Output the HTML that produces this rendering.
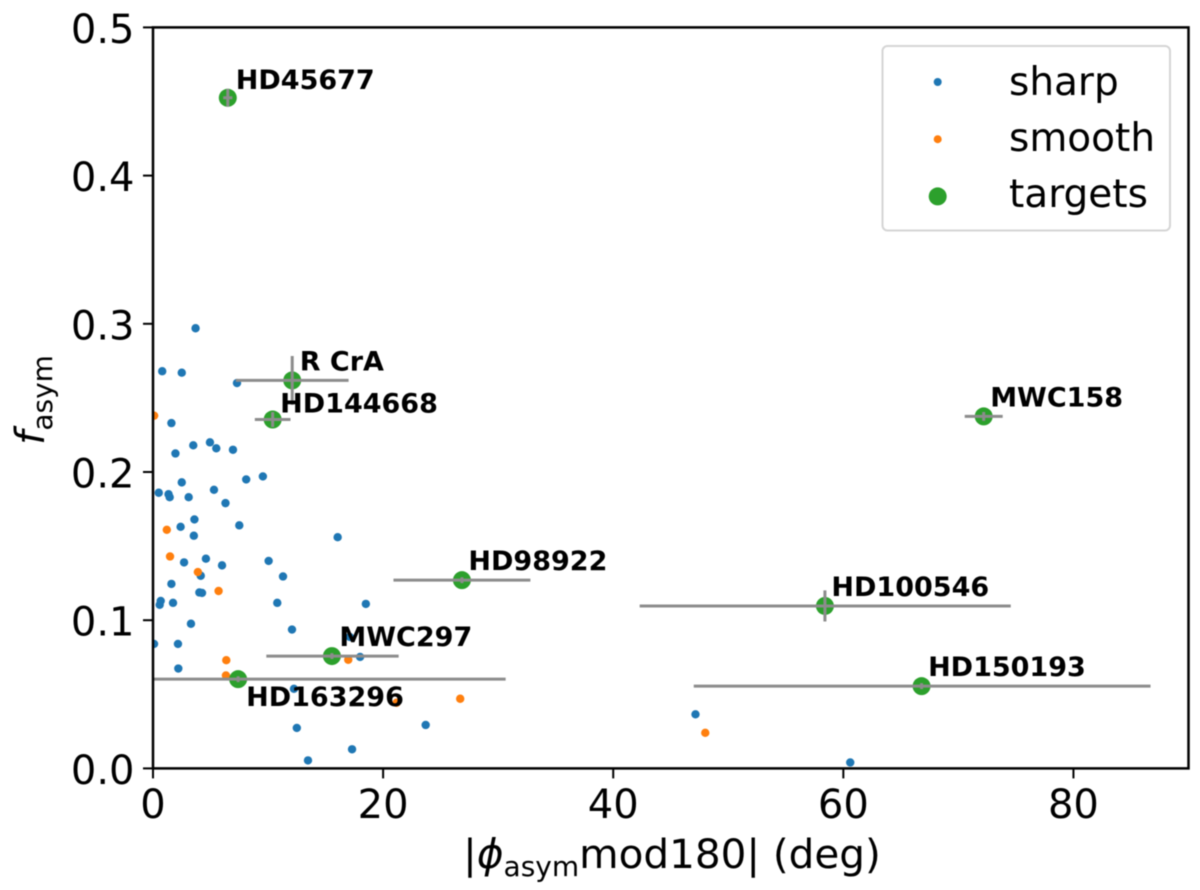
<!DOCTYPE html>
<html>
<head>
<meta charset="utf-8">
<title>Asymmetry fraction vs position angle</title>
<style>
html,body{margin:0;padding:0;background:#fff;width:1200px;height:890px;overflow:hidden}
svg{display:block;filter:blur(0.5px)}
text{font-family:"DejaVu Sans",sans-serif;fill:#000}
</style>
</head>
<body>
<svg id="chart" xmlns="http://www.w3.org/2000/svg" width="1200" height="890" viewBox="0 0 1200 890"></svg>
<script>
const xTicks = [0, 20, 40, 60, 80];
const yTicks = [0.0, 0.1, 0.2, 0.3, 0.4, 0.5];
const yTickLabels = ["0.0", "0.1", "0.2", "0.3", "0.4", "0.5"];
const sharpX = [3.7,0.8,2.5,7.3,1.6,3.5,4.95,5.5,6.95,1.95,8.1,9.55,2.5,5.3,0.5,1.35,1.45,3.1,6.3,3.6,2.4,7.5,3.55,16.05,2.7,4.6,6.0,10.05,11.3,4.15,1.6,4.03,4.26,0.67,0.58,1.74,10.8,18.5,3.3,12.08,0.09,2.17,2.2,17.1,18.0,12.25,23.7,12.5,17.3,13.47,47.15,60.6];
const sharpY = [0.297,0.268,0.267,0.26,0.233,0.218,0.22,0.216,0.215,0.2125,0.195,0.197,0.193,0.188,0.186,0.185,0.183,0.183,0.179,0.168,0.163,0.164,0.157,0.156,0.139,0.1415,0.137,0.14,0.1295,0.13,0.1245,0.1187,0.1184,0.113,0.1104,0.1117,0.1117,0.111,0.0976,0.0937,0.084,0.084,0.0674,0.0887,0.0752,0.0537,0.0293,0.0273,0.0129,0.0054,0.0365,0.004];
const smoothX = [0.1,1.2,1.48,3.9,5.7,6.37,6.34,16.97,21.17,26.7,48.0];
const smoothY = [0.238,0.161,0.143,0.1325,0.1197,0.073,0.0627,0.0733,0.0443,0.047,0.024];
const targetNames = ["HD45677","R CrA","HD144668","MWC158","HD98922","HD100546","MWC297","HD163296","HD150193"];
const targetX = [6.5,12.1,10.4,72.2,26.85,58.4,15.55,7.4,66.8];
const targetY = [0.4525,0.2618,0.2354,0.2375,0.127,0.1096,0.0758,0.0602,0.0555];
const targetXErrLow = [0.4,4.9,1.55,1.65,5.95,16.1,5.7,23.25,19.8];
const targetXErrHigh = [0.4,4.9,1.55,1.65,5.95,16.15,5.8,23.25,19.9];
const targetYErr = [0.006,0.0165,0.005,0.003,0.002,0.0105,0.002,0.002,0.002];
const legendLabels = ["sharp","smooth","targets"];

const NS = "http://www.w3.org/2000/svg";
const svg = document.getElementById("chart");
const plot = {left:153, right:1188.5, top:27.4, bottom:768.4};
const xMax = 90, yMax = 0.5;
function xScale(v){ return plot.left + v * (plot.right - plot.left) / xMax; }
function yScale(v){ return plot.bottom - v * (plot.bottom - plot.top) / yMax; }
function mk(tag, attrs, parent){
  const e = document.createElementNS(NS, tag);
  for (const k in attrs) e.setAttribute(k, attrs[k]);
  (parent || svg).appendChild(e);
  return e;
}
function labelOffset(name){
  if (name === "HD163296") return {dx:8, dy:27};
  if (name === "HD144668") return {dx:7.5, dy:-7};
  if (name === "HD45677") return {dx:8, dy:-9};
  if (name === "R CrA" || name === "MWC297") return {dx:7.5, dy:-10};
  return {dx:6.5, dy:-10};
}

const bg = mk("rect", {x:plot.left, y:plot.top, width:plot.right-plot.left, height:plot.bottom-plot.top, fill:"#fff"});



const defs = mk("defs", {});
const clip = mk("clipPath", {id:"plot-clip"}, defs);
mk("rect", {x:plot.left, y:plot.top, width:plot.right-plot.left, height:plot.bottom-plot.top}, clip);

const sharpGroup = mk("g", {"clip-path":"url(#plot-clip)", fill:"#1f77b4"});


sharpX.forEach(function(v, i){
  const c = mk("circle", {cx:xScale(v), cy:yScale(sharpY[i]), r:4.2}, sharpGroup);
  
  
});

const smoothGroup = mk("g", {"clip-path":"url(#plot-clip)", fill:"#ff7f0e"});


smoothX.forEach(function(v, i){
  const c = mk("circle", {cx:xScale(v), cy:yScale(smoothY[i]), r:4.2}, smoothGroup);
  
  
});

const targetGroup = mk("g", {"clip-path":"url(#plot-clip)"});


targetX.forEach(function(v, i){
  const c = mk("circle", {cx:xScale(v), cy:yScale(targetY[i]), r:9, fill:"#2ca02c"}, targetGroup);
  
  
  const h = mk("line", {x1:xScale(v-targetXErrLow[i]), x2:xScale(v+targetXErrHigh[i]), y1:yScale(targetY[i]), y2:yScale(targetY[i]), stroke:"#8c8c8c", "stroke-width":3}, targetGroup);
  
  
  const w = mk("line", {x1:xScale(v), x2:xScale(v), y1:yScale(targetY[i]-targetYErr[i]), y2:yScale(targetY[i]+targetYErr[i]), stroke:"#8c8c8c", "stroke-width":3}, targetGroup);
  
  
});

targetNames.forEach(function(name, i){
  const o = labelOffset(name);
  const t = mk("text", {x:xScale(targetX[i])+o.dx, y:yScale(targetY[i])+o.dy, "font-size":27, "font-weight":"bold"});
  t.textContent = name;
  
  
});

xTicks.forEach(function(v){
  const l = mk("line", {x1:xScale(v), x2:xScale(v), y1:plot.bottom, y2:plot.bottom+10, stroke:"#000", "stroke-width":2});
  
  
  const t = mk("text", {x:xScale(v), y:plot.bottom+49.5, "text-anchor":"middle", "font-size":40});
  t.textContent = String(v);
  
  
});
yTicks.forEach(function(v, i){
  const l = mk("line", {x1:plot.left-10, x2:plot.left, y1:yScale(v), y2:yScale(v), stroke:"#000", "stroke-width":2});
  
  
  const t = mk("text", {x:plot.left-18.5, y:yScale(v)+15.5, "text-anchor":"end", "font-size":40});
  t.textContent = yTickLabels[i];
  
  
});

const frame = mk("rect", {x:plot.left, y:plot.top, width:plot.right-plot.left, height:plot.bottom-plot.top, fill:"none", stroke:"#000", "stroke-width":2.5});



const legend = mk("g", {});


const legendBox = mk("rect", {x:882.5, y:46, width:287.5, height:184.5, rx:5, ry:5, fill:"#fff", "fill-opacity":0.8, stroke:"#d5d5d5", "stroke-width":2}, legend);


const legendColors = ["#1f77b4","#ff7f0e","#2ca02c"];
const legendRadii = [4,4,9];
legendLabels.forEach(function(label, i){
  const m = mk("circle", {cx:937.7, cy:82 + i * 57.2, r:legendRadii[i], fill:legendColors[i]}, legend);
  
  
  const t = mk("text", {x:1009, y:95 + i * 56, "font-size":39}, legend);
  t.textContent = label;
  
  
});

const xTitle = mk("text", {x:672, y:868, "text-anchor":"middle", "font-size":40.5});


xTitle.innerHTML = '|<tspan font-style="italic">\u03d5</tspan><tspan font-size="28" dy="8">asym</tspan><tspan dy="-8">mod180| (deg)</tspan>';

const yTitle = mk("text", {transform:"translate(44,400) rotate(-90)", "text-anchor":"middle", "font-size":40.5});


yTitle.innerHTML = '<tspan font-style="italic">f</tspan><tspan font-size="28" dy="8">asym</tspan>';
</script>
</body>
</html>
